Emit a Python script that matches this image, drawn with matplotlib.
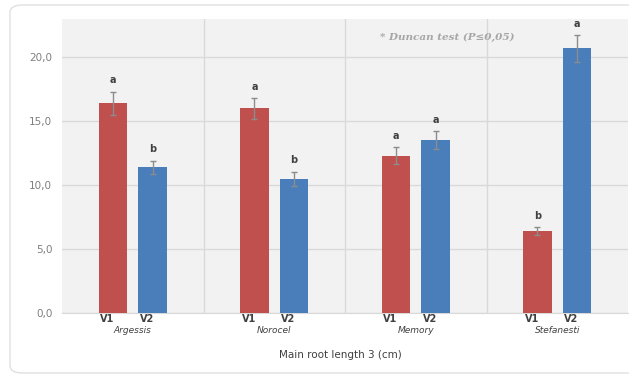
import numpy as np
import matplotlib
matplotlib.use('Agg')
import matplotlib.pyplot as plt
from matplotlib.patches import FancyBboxPatch

cultivars = ['Argessis', 'Norocel', 'Memory', 'Stefanesti']
v1_vals = [16.4, 16.0, 12.3, 6.4]
v2_vals = [11.4, 10.5, 13.5, 20.7]
v1_err = [0.9, 0.8, 0.65, 0.3]
v2_err = [0.5, 0.55, 0.7, 1.05]
v1_letters = ['a', 'a', 'a', 'b']
v2_letters = ['b', 'b', 'a', 'a']
y_ticks = [0, 5, 10, 15, 20]
y_tick_labels = ['0,0', '5,0', '10,0', '15,0', '20,0']

red = '#c0504d'
blue = '#4a7ebb'
grey_txt = '#7f7f7f'

fig = plt.figure(figsize=(6.29, 3.75), dpi=100)
fig.patch.set_facecolor('white')

# outer chart frame
frame = FancyBboxPatch((10 / 629, 2 / 375), 640 / 629, 368 / 375,
                       boxstyle='round,pad=0,rounding_size=0.02',
                       transform=fig.transFigure, facecolor='none',
                       edgecolor='#e0e0e0', linewidth=1.0, zorder=-1)
fig.patches.append(frame)

ax = fig.add_axes([62 / 629, 1 - 313 / 375, 566 / 629, 294 / 375])
ax.set_facecolor('#f2f2f2')

x = np.arange(len(cultivars))
w = 0.2
off = 0.14
ax.bar(x - off, v1_vals, w, color=red, zorder=3)
ax.bar(x + off, v2_vals, w, color=blue, zorder=3)
ax.errorbar(x - off, v1_vals, yerr=v1_err, fmt='none', ecolor='#8c8c8c',
            elinewidth=1, capsize=2.5, capthick=1, zorder=4)
ax.errorbar(x + off, v2_vals, yerr=v2_err, fmt='none', ecolor='#8c8c8c',
            elinewidth=1, capsize=2.5, capthick=1, zorder=4)

for i in range(len(cultivars)):
    ax.text(x[i] - off, v1_vals[i] + v1_err[i] + 0.5, v1_letters[i],
            ha='center', va='bottom', fontsize=7, fontweight='bold', color='#404040')
    ax.text(x[i] + off, v2_vals[i] + v2_err[i] + 0.5, v2_letters[i],
            ha='center', va='bottom', fontsize=7, fontweight='bold', color='#404040')
    # variant labels, sitting slightly left of each bar centre
    ax.text(x[i] - off - 0.04, -0.1, 'V1', ha='center', va='top', fontsize=7,
            fontweight='bold', color='#404040')
    ax.text(x[i] + off - 0.04, -0.1, 'V2', ha='center', va='top', fontsize=7,
            fontweight='bold', color='#404040')
    ax.text(x[i], -1.4, cultivars[i], ha='center', va='center', fontsize=6.5,
            style='italic', color='#404040')

ax.set_xlim(-0.5, 3.5)
ax.set_ylim(0, 23)
ax.set_yticks(y_ticks)
ax.set_yticklabels(y_tick_labels, fontsize=7.5, color=grey_txt)
ax.set_xticks([])
ax.tick_params(axis='y', length=0, pad=7)

# category gridlines between groups and horizontal gridlines
ax.set_axisbelow(True)
ax.yaxis.grid(True, color='#d9d9d9', linewidth=1)
for b in [0.5, 1.5, 2.5]:
    ax.axvline(b, color='#d9d9d9', linewidth=1, zorder=1)
for s in ['top', 'right', 'left']:
    ax.spines[s].set_visible(False)
ax.spines['bottom'].set_color('#d9d9d9')

ax.text(1.75, 21.55, '* Duncan test (P\u22640,05)', ha='left', va='center',
        fontsize=7.5, style='italic', fontweight='bold', color='#a6a6a6',
        family='DejaVu Serif')

fig.text(340 / 629, 1 - 355 / 375, 'Main root length 3 (cm)', ha='center',
         va='center', fontsize=7.5, color='#404040')

fig.savefig('out.png', dpi=100)
